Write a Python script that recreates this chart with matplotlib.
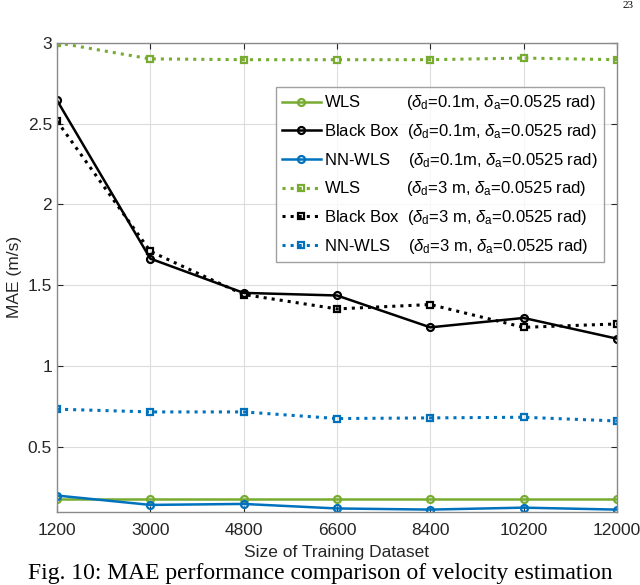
import matplotlib
matplotlib.use("Agg")
import matplotlib.pyplot as plt
import numpy as np

plt.rcParams['font.family'] = ['Liberation Sans', 'DejaVu Sans']
plt.rcParams['mathtext.fontset'] = 'custom'
plt.rcParams['mathtext.rm'] = 'Liberation Sans'
plt.rcParams['mathtext.it'] = 'Liberation Sans:italic'

# training set sizes
sizes = [1200, 3000, 4800, 6600, 8400, 10200, 12000]

# delta_d = 0.1 m
wls_01 = [0.181, 0.181, 0.181, 0.181, 0.181, 0.181, 0.181]
bb_01 = [2.644, 1.665, 1.453, 1.437, 1.24, 1.298, 1.17]
nn_01 = [0.2, 0.142, 0.148, 0.12, 0.113, 0.125, 0.113]

# delta_d = 3 m
wls_3 = [3.0, 2.9, 2.895, 2.895, 2.895, 2.905, 2.895]
bb_3 = [2.516, 1.71, 1.443, 1.354, 1.381, 1.24, 1.261]
nn_3 = [0.734, 0.717, 0.717, 0.676, 0.68, 0.684, 0.661]

green = '#77AC30'
blue = '#0072BD'
black = '#000000'

lab1 = r'($\delta_{\rm d}$=0.1m, $\delta_{\rm a}$=0.0525 rad)'
lab3 = r'($\delta_{\rm d}$=3 m, $\delta_{\rm a}$=0.0525 rad)'

fig = plt.figure(figsize=(6.4, 5.85), dpi=100)
ax = fig.add_axes([0.089, 0.1253, 0.875, 0.8017])

ax.plot(sizes, wls_01, '-o', color=green, lw=1.8, ms=5, mfc='none', mew=1.6,
        label='WLS          ' + lab1)
ax.plot(sizes, bb_01, '-o', color=black, lw=1.8, ms=5, mfc='none', mew=1.6,
        label='Black Box  ' + lab1)
ax.plot(sizes, nn_01, '-o', color=blue, lw=1.8, ms=5, mfc='none', mew=1.6,
        label='NN-WLS    ' + lab1)
ax.plot(sizes, wls_3, ':s', color=green, lw=2.2, ms=5, mfc='none', mew=1.6,
        label='WLS          ' + lab3)
ax.plot(sizes, bb_3, ':s', color=black, lw=2.2, ms=5, mfc='none', mew=1.6,
        label='Black Box  ' + lab3)
ax.plot(sizes, nn_3, ':s', color=blue, lw=2.2, ms=5, mfc='none', mew=1.6,
        label='NN-WLS    ' + lab3)

ax.set_xlim(1200, 12000)
ax.set_ylim(0.1, 3)
ax.set_xticks(sizes)
ax.set_yticks([0.5, 1, 1.5, 2, 2.5, 3])
ax.set_yticklabels(['0.5', '1', '1.5', '2', '2.5', '3'])
ax.grid(True, color='#dcdcdc', lw=0.8)
ax.tick_params(direction='in', labelsize=12.5, colors='#262626', length=4,
               top=True, right=True, labeltop=False, labelright=False)
ax.tick_params(axis='x', pad=8)
for s in ax.spines.values():
    s.set_color('#8a8a8a')
    s.set_linewidth(1.0)
ax.set_xlabel('Size of Training Dataset', fontsize=12.5, color='#262626', labelpad=5)
ax.set_ylabel('MAE (m/s)', fontsize=12.5, color='#262626', labelpad=4)

leg = ax.legend(loc='upper right', bbox_to_anchor=(0.977, 0.906), fontsize=12,
                frameon=True, fancybox=False, edgecolor='#8a8a8a',
                handlelength=2.3, handletextpad=0.2, labelspacing=0.58,
                borderpad=0.4, borderaxespad=0)
leg.get_frame().set_linewidth(1.0)

fig.text(0.5, 1 - 574 / 585, 'Fig. 10: MAE performance comparison of velocity estimation',
         ha='center', va='center', fontsize=17, family='Liberation Serif')
fig.text(0.99, 0.999, '23', ha='right', va='top', fontsize=8, family='Liberation Serif')

fig.savefig('out.png', dpi=100)
